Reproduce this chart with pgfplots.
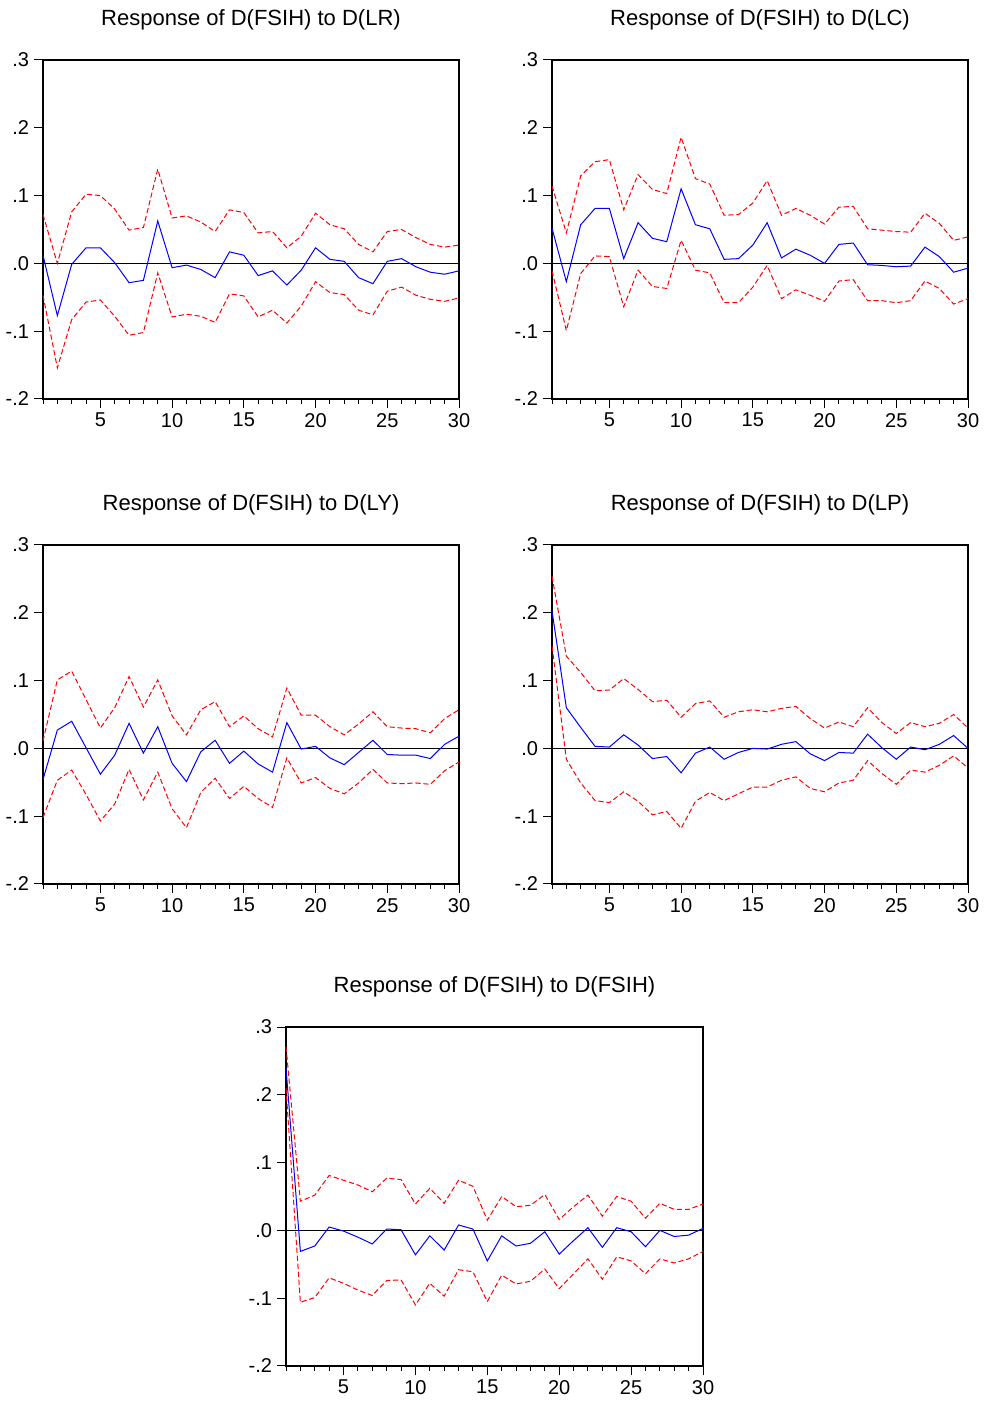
\documentclass[border=0pt]{standalone}
\usepackage{fontspec}
\setmainfont{Liberation Sans}
\usepackage{pgfplots}
\usepackage{pgfplotstable}
\pgfplotsset{compat=1.18}

% columns: t = horizon, b = response, u = upper band, l = lower band
\pgfplotstableread{
t b u l
1 0.012 0.072 -0.047
2 -0.077 0.000 -0.154
3 -0.0015 0.076 -0.083
4 0.023 0.102 -0.057
5 0.023 0.100 -0.054
6 0.001 0.080 -0.078
7 -0.0285 0.049 -0.106
8 -0.025 0.053 -0.102
9 0.0625 0.139 -0.014
10 -0.0064 0.067 -0.079
11 -0.0025 0.070 -0.075
12 -0.009 0.061 -0.078
13 -0.021 0.047 -0.087
14 0.017 0.079 -0.045
15 0.012 0.075 -0.048
16 -0.018 0.045 -0.079
17 -0.011 0.047 -0.069
18 -0.032 0.023 -0.088
19 -0.010 0.040 -0.063
20 0.023 0.074 -0.027
21 0.006 0.057 -0.043
22 0.003 0.051 -0.046
23 -0.021 0.028 -0.069
24 -0.030 0.017 -0.076
25 0.003 0.047 -0.041
26 0.007 0.050 -0.035
27 -0.005 0.038 -0.047
28 -0.013 0.028 -0.053
29 -0.016 0.024 -0.056
30 -0.011 0.027 -0.051
}\lr

\pgfplotstableread{
t b u l
1 0.052 0.114 -0.011
2 -0.027 0.045 -0.099
3 0.057 0.129 -0.015
4 0.081 0.150 0.011
5 0.081 0.153 0.010
6 0.007 0.079 -0.064
7 0.060 0.131 -0.010
8 0.037 0.109 -0.034
9 0.032 0.103 -0.037
10 0.110 0.186 0.034
11 0.057 0.125 -0.010
12 0.051 0.117 -0.014
13 0.006 0.071 -0.058
14 0.007 0.072 -0.058
15 0.027 0.089 -0.035
16 0.060 0.122 -0.003
17 0.008 0.071 -0.052
18 0.021 0.081 -0.039
19 0.012 0.071 -0.047
20 0.000 0.058 -0.056
21 0.028 0.083 -0.026
22 0.030 0.084 -0.024
23 -0.002 0.051 -0.055
24 -0.003 0.049 -0.055
25 -0.005 0.047 -0.058
26 -0.004 0.046 -0.055
27 0.024 0.074 -0.026
28 0.010 0.059 -0.037
29 -0.013 0.034 -0.060
30 -0.007 0.039 -0.052
}\lc

\pgfplotstableread{
t b u l
1 -0.046 0.011 -0.102
2 0.027 0.101 -0.047
3 0.040 0.114 -0.032
4 0.001 0.072 -0.068
5 -0.038 0.030 -0.107
6 -0.010 0.060 -0.082
7 0.037 0.106 -0.031
8 -0.007 0.061 -0.076
9 0.032 0.101 -0.035
10 -0.022 0.048 -0.089
11 -0.049 0.020 -0.117
12 -0.005 0.057 -0.065
13 0.012 0.069 -0.044
14 -0.022 0.032 -0.074
15 -0.004 0.048 -0.056
16 -0.023 0.029 -0.074
17 -0.035 0.017 -0.087
18 0.038 0.089 -0.014
19 -0.001 0.049 -0.051
20 0.003 0.049 -0.043
21 -0.014 0.032 -0.059
22 -0.024 0.020 -0.067
23 -0.006 0.036 -0.051
24 0.012 0.054 -0.031
25 -0.009 0.032 -0.051
26 -0.010 0.030 -0.052
27 -0.010 0.029 -0.051
28 -0.015 0.023 -0.053
29 0.006 0.044 -0.033
30 0.018 0.057 -0.020
}\ly

\pgfplotstableread{
t b u l
1 0.203 0.254 0.151
2 0.060 0.136 -0.016
3 0.031 0.112 -0.051
4 0.003 0.085 -0.077
5 0.002 0.086 -0.080
6 0.020 0.103 -0.064
7 0.005 0.087 -0.078
8 -0.015 0.069 -0.098
9 -0.012 0.071 -0.093
10 -0.036 0.046 -0.118
11 -0.007 0.066 -0.078
12 0.002 0.070 -0.065
13 -0.016 0.046 -0.077
14 -0.006 0.054 -0.067
15 0.000 0.057 -0.057
16 -0.001 0.054 -0.057
17 0.006 0.059 -0.047
18 0.010 0.062 -0.042
19 -0.008 0.044 -0.059
20 -0.018 0.030 -0.064
21 -0.006 0.039 -0.051
22 -0.007 0.032 -0.047
23 0.021 0.060 -0.018
24 0.001 0.038 -0.037
25 -0.016 0.022 -0.053
26 0.002 0.038 -0.032
27 -0.002 0.032 -0.035
28 0.006 0.037 -0.025
29 0.019 0.050 -0.011
30 0.000 0.030 -0.029
}\lp

\pgfplotstableread{
t b u l
1 0.240 0.271 0.210
2 -0.031 0.043 -0.106
3 -0.023 0.052 -0.099
4 0.005 0.081 -0.070
5 -0.001 0.074 -0.078
6 -0.010 0.067 -0.088
7 -0.020 0.057 -0.096
8 0.002 0.077 -0.074
9 0.001 0.075 -0.073
10 -0.036 0.039 -0.110
11 -0.008 0.062 -0.078
12 -0.029 0.040 -0.097
13 0.008 0.074 -0.058
14 0.002 0.065 -0.061
15 -0.045 0.015 -0.105
16 -0.008 0.050 -0.066
17 -0.023 0.035 -0.079
18 -0.019 0.037 -0.075
19 -0.002 0.053 -0.057
20 -0.035 0.016 -0.086
21 -0.015 0.035 -0.064
22 0.004 0.052 -0.042
23 -0.025 0.021 -0.072
24 0.004 0.050 -0.039
25 -0.002 0.043 -0.045
26 -0.024 0.018 -0.064
27 0.000 0.040 -0.042
28 -0.009 0.031 -0.048
29 -0.007 0.031 -0.042
30 0.003 0.039 -0.031
}\fsih

\pgfplotsset{
  irf/.style={
    scale only axis, width=208pt, height=169.5pt,
    xmin=1, xmax=30, ymin=-0.2, ymax=0.3,
    xtick={5,10,15,20,25,30},
    minor xtick={1,2,...,30},
    ytick={-0.2,-0.1,0,0.1,0.2,0.3},
    yticklabels={-.2,-.1,.0,.1,.2,.3},
    tick align=outside, xtick pos=bottom, ytick pos=left,
    major tick length=4.5pt, minor tick length=2.5pt,
    tick style={black, line width=0.5pt},
    axis line style={line width=0.6pt},
    /pgf/number format/assume math mode=true,
    tick label style={font=\fontsize{10}{12}\selectfont},
    xticklabel style={yshift=1pt},
    yticklabel style={xshift=1pt},
    title style={font=\fontsize{11}{13}\selectfont, at={(0.5,1)}, anchor=center, yshift=14pt},
    clip=false,
  },
  band/.style={red, line width=0.5pt, dash pattern=on 2.6pt off 1.4pt},
  resp/.style={blue, line width=0.5pt},
  zero/.style={black, line width=0.5pt},
}

\begin{document}
\begin{tikzpicture}
\useasboundingbox (0,0) rectangle (492pt,701pt);

\begin{axis}[irf, at={(21.5pt,501.5pt)}, anchor=south west,
  title={Response of D(FSIH) to D(LR)}]
  \addplot[zero] coordinates {(1,0) (30,0)};
  \addplot[band] table[x=t, y=u] {\lr};
  \addplot[band] table[x=t, y=l] {\lr};
  \addplot[resp] table[x=t, y=b] {\lr};
\end{axis}

\begin{axis}[irf, at={(276pt,501.5pt)}, anchor=south west,
  title={Response of D(FSIH) to D(LC)}]
  \addplot[zero] coordinates {(1,0) (30,0)};
  \addplot[band] table[x=t, y=u] {\lc};
  \addplot[band] table[x=t, y=l] {\lc};
  \addplot[resp] table[x=t, y=b] {\lc};
\end{axis}

\begin{axis}[irf, at={(21.5pt,259pt)}, anchor=south west,
  title={Response of D(FSIH) to D(LY)}]
  \addplot[zero] coordinates {(1,0) (30,0)};
  \addplot[band] table[x=t, y=u] {\ly};
  \addplot[band] table[x=t, y=l] {\ly};
  \addplot[resp] table[x=t, y=b] {\ly};
\end{axis}

\begin{axis}[irf, at={(276pt,259pt)}, anchor=south west,
  title={Response of D(FSIH) to D(LP)}]
  \addplot[zero] coordinates {(1,0) (30,0)};
  \addplot[band] table[x=t, y=u] {\lp};
  \addplot[band] table[x=t, y=l] {\lp};
  \addplot[resp] table[x=t, y=b] {\lp};
\end{axis}

\begin{axis}[irf, at={(143pt,18pt)}, anchor=south west, width=208.5pt,
  title={Response of D(FSIH) to D(FSIH)}]
  \addplot[zero] coordinates {(1,0) (30,0)};
  \addplot[band] table[x=t, y=u] {\fsih};
  \addplot[band] table[x=t, y=l] {\fsih};
  \addplot[resp] table[x=t, y=b] {\fsih};
\end{axis}
\end{tikzpicture}
\end{document}
